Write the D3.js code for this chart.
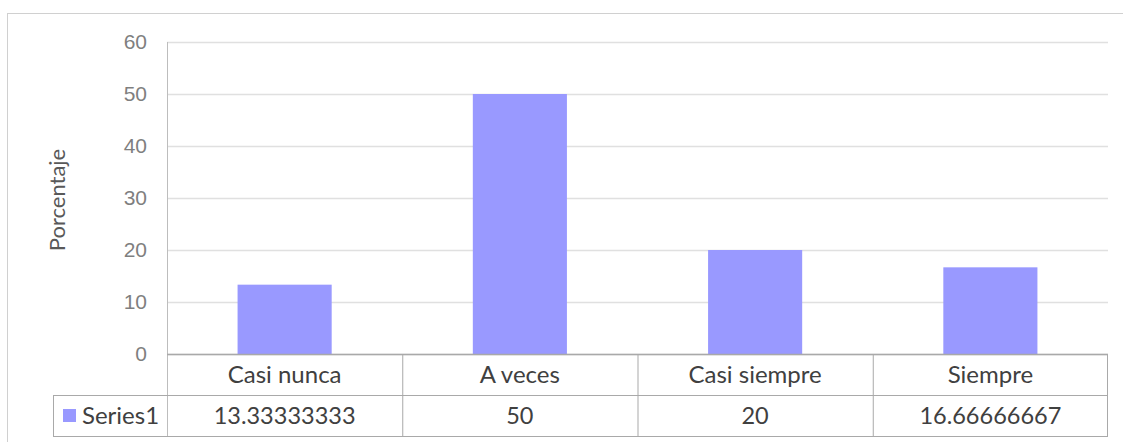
<!DOCTYPE html>
<html>
<head>
<meta charset="utf-8">
<script src="https://cdn.jsdelivr.net/npm/d3@7/dist/d3.min.js"></script>
<style>
  html, body { margin: 0; padding: 0; background: #fff; }
  svg { display: block; font-family: Lato, 'Open Sans', sans-serif; }
</style>
</head>
<body>
<svg id="chart"></svg>
<script>
  'use strict';

  var categories = ['Casi nunca', 'A veces', 'Casi siempre', 'Siempre'];
  var seriesName = 'Series1';
  var seriesValues = [13.33333333, 50, 20, 16.66666667];
  var valueLabels = ['13.33333333', '50', '20', '16.66666667'];
  var yTicks = [0, 10, 20, 30, 40, 50, 60];

  var width = 1123;
  var height = 442;
  var plot = { left: 167, right: 1108, top: 42, bottom: 354 };
  var rowHeight = 41;
  var legendLeft = 53;

  var svg = d3.select('#chart')
    .attr('width', width)
    .attr('height', height);

  /* outer chart frame */
  svg.append('rect')
    .attr('x', 7.5)
    .attr('y', 13.5)
    .attr('width', width)
    .attr('height', height)
    .attr('fill', '#fff')
    .attr('stroke', '#d0d0d0');

  var x = d3.scaleBand()
    .domain(categories)
    .range([plot.left, plot.right])
    .padding(0);

  var y = d3.scaleLinear()
    .domain([0, 60])
    .range([plot.bottom, plot.top]);

  /* grid */
  var yAxis = d3.axisLeft(y)
    .tickValues(yTicks)
    .tickSize(-(plot.right - plot.left))
    .tickPadding(20)
    .tickFormat(d3.format('d'));

  var gY = svg.append('g')
    .attr('class', 'y axis')
    .attr('transform', 'translate(' + plot.left + ',0)')
    .call(yAxis);
  gY.select('.domain').remove();
  gY.selectAll('.tick line')
    .attr('stroke', '#e0e0e0')
    .attr('stroke-width', 1.5);
  gY.selectAll('.tick text')
    .attr('fill', '#7f7f7f')
    .style('font-size', '21px');

  /* y axis line */
  svg.append('line')
    .attr('x1', plot.left + 0.5).attr('x2', plot.left + 0.5)
    .attr('y1', plot.top).attr('y2', plot.bottom + rowHeight * 2)
    .attr('stroke', '#bdbdbd');

  /* axis title */
  svg.append('text')
    .attr('transform', 'translate(65,' + ((plot.top + plot.bottom) / 2 + 2) + ') rotate(-90)')
    .attr('text-anchor', 'middle')
    .attr('fill', '#595959')
    .style('font-size', '22px')
    .text('Porcentaje');

  /* bars */
  var barW = x.bandwidth() * 0.4;
  svg.append('g')
    .selectAll('.bar')
    .data(seriesValues)
    .enter().append('rect')
      .attr('class', 'bar')
      .attr('x', function(d, i) { return x(categories[i]) + (x.bandwidth() - barW) / 2; })
      .attr('width', barW)
      .attr('y', function(d) { return y(d); })
      .attr('height', function(d) { return y(0) - y(d); })
      .attr('fill', '#9999ff');

  /* data table */
  var table = svg.append('g').attr('class', 'table');
  var lineColor = '#a9a9a9';
  var r1 = plot.bottom, r2 = plot.bottom + rowHeight, r3 = plot.bottom + rowHeight * 2;

  table.append('line')
    .attr('x1', plot.left).attr('x2', plot.right)
    .attr('y1', r1 + 0.5).attr('y2', r1 + 0.5)
    .attr('stroke', lineColor).attr('stroke-width', 1.5);
  table.append('line')
    .attr('x1', legendLeft).attr('x2', plot.right)
    .attr('y1', r2 + 0.5).attr('y2', r2 + 0.5)
    .attr('stroke', lineColor);
  table.append('line')
    .attr('x1', legendLeft).attr('x2', plot.right)
    .attr('y1', r3 + 0.5).attr('y2', r3 + 0.5)
    .attr('stroke', lineColor);
  table.append('line')
    .attr('x1', legendLeft + 0.5).attr('x2', legendLeft + 0.5)
    .attr('y1', r2).attr('y2', r3)
    .attr('stroke', lineColor);

  table.selectAll('.col')
    .data(categories.slice(1).concat(['_end']))
    .enter().append('line')
      .attr('class', 'col')
      .attr('x1', function(d) { return d === '_end' ? plot.right - 0.5 : x(d) + 0.5; })
      .attr('x2', function(d) { return d === '_end' ? plot.right - 0.5 : x(d) + 0.5; })
      .attr('y1', r1).attr('y2', r3)
      .attr('stroke', lineColor);

  table.selectAll('.cat')
    .data(categories)
    .enter().append('text')
      .attr('class', 'cat')
      .attr('x', function(d) { return x(d) + x.bandwidth() / 2; })
      .attr('y', r1 + 29)
      .attr('text-anchor', 'middle')
      .attr('fill', '#404040')
      .style('font-size', '24px')
      .text(function(d) { return d; });

  table.selectAll('.val')
    .data(valueLabels)
    .enter().append('text')
      .attr('class', 'val')
      .attr('x', function(d, i) { return x(categories[i]) + x.bandwidth() / 2; })
      .attr('y', r2 + 29)
      .attr('text-anchor', 'middle')
      .attr('fill', '#404040')
      .style('font-size', '23.5px')
      .text(function(d) { return d; });

  /* legend key */
  table.append('rect')
    .attr('x', 63).attr('y', r2 + 14)
    .attr('width', 13).attr('height', 13)
    .attr('fill', '#9999ff');
  table.append('text')
    .attr('x', 82).attr('y', r2 + 29)
    .attr('fill', '#404040')
    .style('font-size', '24px')
    .text(seriesName);
</script>
</body>
</html>
